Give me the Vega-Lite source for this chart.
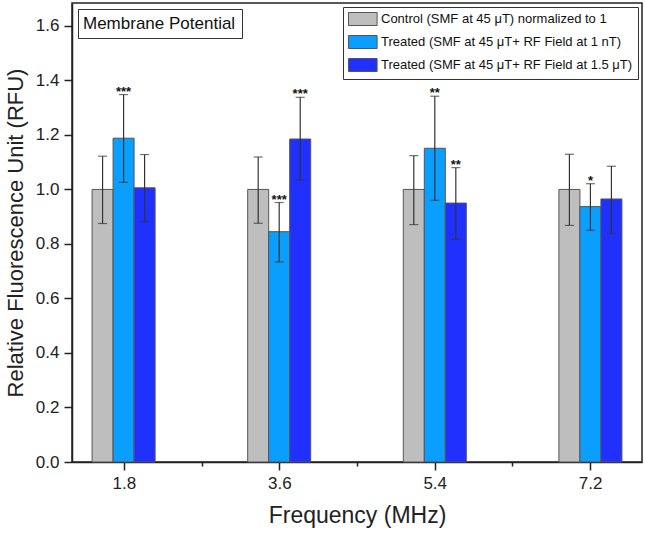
{
  "$schema": "https://vega.github.io/schema/vega-lite/v6.json",
  "width": 570,
  "height": 459,
  "autosize": {"type": "none"},
  "padding": {"left": 72, "top": 3, "right": 3, "bottom": 74},
  "background": "white",
  "config": {
    "font": "Liberation Sans",
    "view": {"stroke": "#222", "strokeWidth": 1.5},
    "axis": {"grid": false, "domainColor": "#222", "domainWidth": 1.5, "tickColor": "#222", "tickWidth": 1.5, "labelColor": "#222", "titleColor": "#222", "labelFont": "Liberation Sans", "titleFont": "Liberation Sans", "titleFontWeight": "normal"}
  },
  "data": {
    "values": [
      {"freq": 1.8, "group": "Control  (SMF at 45 μT) normalized to 1", "value": 1.0, "lo": 0.875, "hi": 1.122, "sig": ""},
      {"freq": 1.8, "group": "Treated (SMF at 45 μT+ RF Field at 1 nT)", "value": 1.188, "lo": 1.026, "hi": 1.348, "sig": "***"},
      {"freq": 1.8, "group": "Treated (SMF at 45 μT+ RF Field at 1.5 μT)", "value": 1.006, "lo": 0.882, "hi": 1.128, "sig": ""},
      {"freq": 3.6, "group": "Control  (SMF at 45 μT) normalized to 1", "value": 1.0, "lo": 0.876, "hi": 1.119, "sig": ""},
      {"freq": 3.6, "group": "Treated (SMF at 45 μT+ RF Field at 1 nT)", "value": 0.845, "lo": 0.734, "hi": 0.952, "sig": "***"},
      {"freq": 3.6, "group": "Treated (SMF at 45 μT+ RF Field at 1.5 μT)", "value": 1.185, "lo": 1.035, "hi": 1.338, "sig": "***"},
      {"freq": 5.4, "group": "Control  (SMF at 45 μT) normalized to 1", "value": 1.0, "lo": 0.871, "hi": 1.124, "sig": ""},
      {"freq": 5.4, "group": "Treated (SMF at 45 μT+ RF Field at 1 nT)", "value": 1.151, "lo": 0.96, "hi": 1.342, "sig": "**"},
      {"freq": 5.4, "group": "Treated (SMF at 45 μT+ RF Field at 1.5 μT)", "value": 0.95, "lo": 0.818, "hi": 1.08, "sig": "**"},
      {"freq": 7.2, "group": "Control  (SMF at 45 μT) normalized to 1", "value": 1.0, "lo": 0.868, "hi": 1.129, "sig": ""},
      {"freq": 7.2, "group": "Treated (SMF at 45 μT+ RF Field at 1 nT)", "value": 0.937, "lo": 0.85, "hi": 1.021, "sig": "*"},
      {"freq": 7.2, "group": "Treated (SMF at 45 μT+ RF Field at 1.5 μT)", "value": 0.965, "lo": 0.839, "hi": 1.085, "sig": ""}
    ]
  },
  "layer": [
    {
      "encoding": {
        "x": {"field": "freq", "type": "nominal", "axis": null, "scale": {"paddingInner": 0.595, "paddingOuter": 0.129}},
        "xOffset": {"field": "group", "type": "nominal", "scale": {"paddingInner": 0, "paddingOuter": 0, "domain": ["Control  (SMF at 45 μT) normalized to 1", "Treated (SMF at 45 μT+ RF Field at 1 nT)", "Treated (SMF at 45 μT+ RF Field at 1.5 μT)"]}}
      },
      "layer": [
        {
          "mark": {"type": "bar", "stroke": "#555", "strokeWidth": 1},
          "encoding": {
            "y": {
              "field": "value", "type": "quantitative",
              "scale": {"domain": [0, 1.684], "nice": false, "zero": true},
              "axis": {
                "title": "Relative Fluorescence Unit (RFU)",
                "titleFontSize": 22, "titlePadding": 8,
                "labelFontSize": 17, "labelPadding": 5,
                "values": [0, 0.1, 0.2, 0.3, 0.4, 0.5, 0.6, 0.7, 0.8, 0.9, 1.0, 1.1, 1.2, 1.3, 1.4, 1.5, 1.6],
                "labelExpr": "round(datum.value*10) % 2 === 0 ? format(datum.value, '.1f') : ''",
                "tickSize": {"condition": {"test": "round(datum.value*10) % 2 !== 0", "value": 4}, "value": 8}
              }
            },
            "fill": {
              "field": "group", "type": "nominal",
              "scale": {"domain": ["Control  (SMF at 45 μT) normalized to 1", "Treated (SMF at 45 μT+ RF Field at 1 nT)", "Treated (SMF at 45 μT+ RF Field at 1.5 μT)"], "range": ["#BEBEBE", "#0A9EFF", "#1F30FF"]},
              "legend": {
                "title": null, "orient": "top-right", "offset": 4,
                "strokeColor": "#333", "padding": 5, "fillColor": "white",
                "symbolType": "M-1,-1H3.4V1H-1Z", "symbolSize": 169,
                "symbolStrokeColor": "#555", "symbolStrokeWidth": 1, "symbolOpacity": 1,
                "labelFontSize": 13, "labelOffset": 19, "rowPadding": 5, "labelColor": "#111", "labelLimit": 400
              }
            }
          }
        },
        {
          "mark": {"type": "rule", "color": "#333", "strokeWidth": 1.2},
          "encoding": {
            "y": {"field": "lo", "type": "quantitative"},
            "y2": {"field": "hi"}
          }
        },
        {
          "mark": {"type": "tick", "color": "#333", "size": 9, "thickness": 1.2},
          "encoding": {"y": {"field": "lo", "type": "quantitative"}}
        },
        {
          "mark": {"type": "tick", "color": "#333", "size": 9, "thickness": 1.2},
          "encoding": {"y": {"field": "hi", "type": "quantitative"}}
        },
        {
          "mark": {"type": "text", "fontSize": 13, "fontWeight": "bold", "baseline": "alphabetic", "dy": 1, "color": "#111"},
          "encoding": {
            "y": {"field": "hi", "type": "quantitative"},
            "text": {"field": "sig", "type": "nominal"}
          }
        }
      ]
    },
    {
      "mark": {"type": "point", "opacity": 0, "size": 0},
      "encoding": {
        "x": {
          "field": "freq", "type": "quantitative",
          "scale": {"domain": [1.2, 7.8], "nice": false, "zero": false},
          "axis": {
            "orient": "bottom",
            "title": "Frequency (MHz)", "titleFontSize": 23, "titlePadding": 13,
            "labelFontSize": 17, "labelPadding": 5,
            "values": [1.8, 2.7, 3.6, 4.5, 5.4, 6.3, 7.2],
            "labelExpr": "round(datum.value/0.9) % 2 === 0 ? format(datum.value, '.1f') : ''",
            "tickSize": {"condition": {"test": "round(datum.value/0.9) % 2 !== 0", "value": 4}, "value": 8}
          }
        },
        "y": {"field": "value", "type": "quantitative"},
        "shape": {
          "datum": "Membrane Potential", "type": "nominal",
          "legend": {
            "title": null, "orient": "top-left", "offset": 6,
            "strokeColor": "#333", "padding": 6, "fillColor": "white",
            "symbolSize": 0, "symbolOpacity": 0, "symbolStrokeWidth": 0, "labelOffset": -18,
            "labelFontSize": 17, "labelColor": "#111", "labelLimit": 300
          }
        }
      }
    }
  ],
  "resolve": {"scale": {"x": "independent"}}
}
